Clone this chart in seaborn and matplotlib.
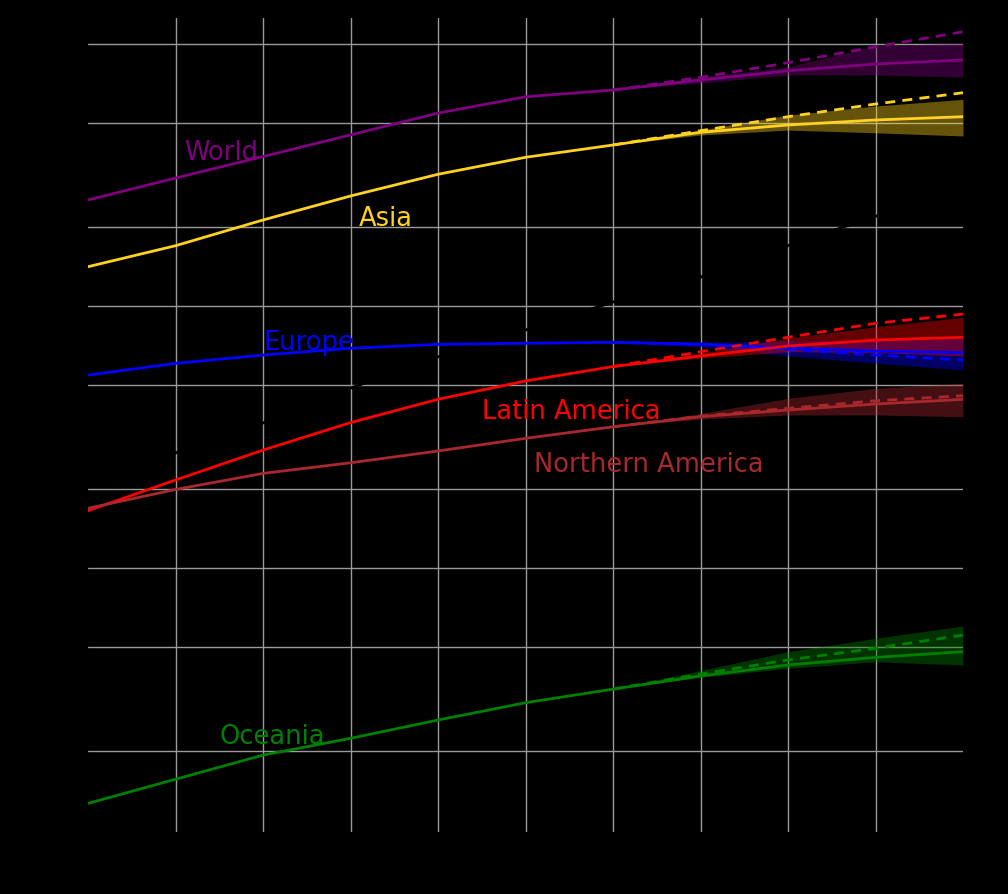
import numpy as np
import pandas as pd
import matplotlib
matplotlib.use("Agg")
import matplotlib.pyplot as plt
import seaborn as sns

# ---------------- data (population, millions) ----------------
years_hist = [1950, 1960, 1970, 1980, 1990, 2000, 2010]
years_proj = [2010, 2020, 2030, 2040, 2050]

world_hist = [2540, 3080, 3720, 4500, 5450, 6290, 6675]
world_med = [6675, 7290, 7910, 8390, 8690]
world_const = [6675, 7464, 8485, 9766, 11143]
world_lo = [6675, 7100, 7614, 7616, 7480]
world_hi = [6675, 7480, 8190, 9826, 10090]

africa_hist = [228, 275, 358, 486, 640, 810, 1036]
africa_med = [1036, 1290, 1700, 2200, 2750]

asia_hist = [1413, 1699, 2130, 2630, 3183, 3695, 4117]
asia_med = [4117, 4603, 4909, 5129, 5280]
asia_const = [4117, 4667, 5280, 5902, 6518]
asia_lo = [4117, 4497, 4695, 4584, 4457]
asia_hi = [4117, 4695, 5357, 5800, 6151]

europe_hist = [545, 604, 650, 690, 714, 721, 727]
europe_med = [727, 716, 690, 673, 664]
europe_const = [727, 712, 684, 650, 622]
europe_lo = [727, 698, 645, 605, 570]
europe_hi = [727, 727, 735, 748, 762]

latam_hist = [165.5, 216.8, 282, 359, 440.6, 517.6, 587.5]
latam_med = [587.5, 644.7, 703.6, 741.3, 760]
latam_const = [587.5, 669.3, 760, 859, 931.7]
latam_lo = [587.5, 633, 669, 664, 645]
latam_hi = [587.5, 661, 753, 834, 905]

nam_hist = [169, 199.5, 229.7, 252.2, 279.7, 312.6, 346]
nam_med = [346, 378, 401, 422.7, 440.5]
nam_const = [346, 380, 407, 435, 454.7]
nam_lo = [346, 370, 384, 384, 378]
nam_hi = [346, 389, 444.5, 485, 507]

oce_hist = [12.64, 15.63, 19.32, 22.39, 26.30, 30.62, 34.5]
oce_med = [34.5, 38.73, 42.66, 45.6, 47.96]
oce_const = [34.5, 39.4, 44.6, 49.4, 55.5]
oce_lo = [34.5, 38.3, 41.4, 43.9, 42.66]
oce_hi = [34.5, 40.6, 47.96, 53.95, 60.1]

regions = ["World", "Africa", "Asia", "Europe", "Latin America",
           "Northern America", "Oceania"]
colors = {"World": "#800080", "Africa": "#000000", "Asia": "#FFD21F",
          "Europe": "#0000FF", "Latin America": "#FF0000",
          "Northern America": "#A8282E", "Oceania": "#008000"}

series = {
    "World": (world_hist, world_med, world_const, world_lo, world_hi),
    "Africa": (africa_hist, africa_med, None, None, None),
    "Asia": (asia_hist, asia_med, asia_const, asia_lo, asia_hi),
    "Europe": (europe_hist, europe_med, europe_const, europe_lo, europe_hi),
    "Latin America": (latam_hist, latam_med, latam_const, latam_lo, latam_hi),
    "Northern America": (nam_hist, nam_med, nam_const, nam_lo, nam_hi),
    "Oceania": (oce_hist, oce_med, oce_const, oce_lo, oce_hi),
}

labels = {"World": (1961, 3607), "Asia": (1981, 2020), "Europe": (1970, 679),
          "Latin America": (1995, 370.6), "Northern America": (2001, 232.5),
          "Oceania": (1965, 21.3)}

# ---------------- figure ----------------
sns.set_theme(style="dark")
fig = plt.figure(figsize=(10.08, 8.94), dpi=100, facecolor="black")
ax = fig.add_axes([88 / 1008, 1 - 832 / 894, (963 - 88) / 1008, (832 - 18) / 894])
ax.set_facecolor("black")
ax.set_yscale("log")
ax.set_axisbelow(True)

for reg in regions:
    hist, med, const, lo, hi = series[reg]
    col = colors[reg]
    if lo is not None:
        ax.fill_between(years_proj, lo, hi, color=col, alpha=0.4, lw=0, zorder=2)
    rows = []
    for y, v in zip(years_hist, hist):
        rows.append((y, v, "median"))
    for y, v in zip(years_proj[1:], med[1:]):
        rows.append((y, v, "median"))
    if const is not None:
        for y, v in zip(years_proj, const):
            rows.append((y, v, "constant"))
    df = pd.DataFrame(rows, columns=["year", "pop", "variant"])
    sns.lineplot(data=df, x="year", y="pop", style="variant",
                 dashes={"median": "", "constant": (3.6, 2.6)},
                 color=col, lw=2.0, estimator=None, legend=False, ax=ax,
                 zorder=3)
    if reg in labels:
        lx, ly = labels[reg]
        ax.text(lx, ly, reg, color=col, fontsize=18.5, va="baseline",
                ha="left", zorder=4)

ax.set_xlim(1950, 2050)
ax.set_ylim(9.83, 12570)
ax.set_xticks(range(1950, 2051, 10))
yt = [10, 20, 50, 100, 200, 500, 1000, 2000, 5000, 10000]
ax.set_yticks(yt)
ax.set_yticklabels(["10M", "20M", "50M", "100M", "200M", "500M", "1B", "2B", "5B", "10B"])
ax.minorticks_off()
ax.tick_params(colors="black", labelcolor="black", length=0)
ax.set_xlabel("")
ax.set_ylabel("")
for s in ax.spines.values():
    s.set_visible(False)
ax.grid(True, color="#9a9a9a", lw=1.0)
xg = ax.get_xgridlines()
xg[0].set_visible(False)
xg[-1].set_visible(False)
ax.get_ygridlines()[0].set_visible(False)

fig.savefig("out.png", dpi=100, facecolor="black")
